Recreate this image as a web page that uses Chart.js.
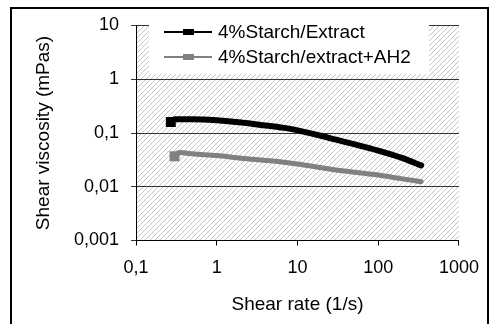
<!DOCTYPE html>
<html lang="en">
<head>
  <meta charset="UTF-8">
  <title>Shear viscosity</title>
  <script src="https://cdn.jsdelivr.net/npm/chart.js"></script>
  <style>
    body {
      margin: 0;
      background: white;
    }
  </style>
</head>
<body>
  <canvas id="grafico" width="491" height="324"></canvas>

  <script>
    // datos
    const seriesNames = ['4%Starch/Extract', '4%Starch/extract+AH2'];
    const extractRate = [0.27, 0.3, 0.5, 1, 2, 4, 7.5, 10, 20, 30, 50, 100, 200, 340];
    const extractVisc = [0.16, 0.18, 0.18, 0.172, 0.157, 0.138, 0.122, 0.112, 0.088, 0.075, 0.062, 0.047, 0.034, 0.025];
    const ah2Rate = [0.3, 0.34, 0.5, 1, 2, 5, 10, 30, 100, 200, 340];
    const ah2Visc = [0.037, 0.0435, 0.041, 0.038, 0.034, 0.030, 0.0265, 0.0205, 0.0165, 0.014, 0.0124];
    const xTicks = [0.1, 1, 10, 100, 1000];
    const xTickLabels = ['0,1', '1', '10', '100', '1000'];
    const yTicks = [0.001, 0.01, 0.1, 1, 10];
    const yTickLabels = ['0,001', '0,01', '0,1', '1', '10'];

    const FONT = 'Liberation Sans, Arial, sans-serif';

    function toPoints(xs, ys) {
      return xs.map((x, i) => ({ x: x, y: ys[i] }));
    }

    // fondo rayado del area de trazado
    function hatchPattern(ctx) {
      const c = document.createElement('canvas');
      c.width = 5; c.height = 5;
      const g = c.getContext('2d');
      g.fillStyle = '#ffffff';
      g.fillRect(0, 0, 5, 5);
      g.strokeStyle = '#c6c6c6';
      g.lineWidth = 1;
      g.beginPath();
      g.moveTo(-1, 6); g.lineTo(6, -1);
      g.moveTo(-1, 1); g.lineTo(1, -1);
      g.moveTo(4, 6); g.lineTo(6, 4);
      g.stroke();
      return ctx.createPattern(c, 'repeat');
    }

    const fondo = {
      id: 'fondo',
      beforeDraw(chart) {
        const { ctx, chartArea: a } = chart;
        ctx.save();
        ctx.fillStyle = '#ffffff';
        ctx.fillRect(0, 0, chart.width, chart.height);
        ctx.fillStyle = hatchPattern(ctx);
        ctx.fillRect(a.left, a.top, a.right - a.left, a.bottom - a.top);
        ctx.restore();
      }
    };

    const leyenda = {
      id: 'leyenda',
      afterDraw(chart) {
        const ctx = chart.ctx;
        ctx.save();
        ctx.fillStyle = '#ffffff';
        ctx.fillRect(149, 17, 280, 57);
        chart.data.datasets.forEach((ds, i) => {
          const y = 32 + i * 25;
          ctx.strokeStyle = ds.borderColor;
          ctx.lineWidth = 2;
          ctx.beginPath();
          ctx.moveTo(164, y);
          ctx.lineTo(212, y);
          ctx.stroke();
          ctx.fillStyle = ds.borderColor;
          ctx.fillRect(183, y - 3, 11, 6);
          ctx.fillStyle = '#000000';
          ctx.font = '19px ' + FONT;
          ctx.textBaseline = 'middle';
          ctx.fillText(ds.label, 218, y + 1);
        });
        // marco exterior
        ctx.strokeStyle = '#000000';
        ctx.lineWidth = 2;
        ctx.strokeRect(11, 8, 477, 330);
        ctx.restore();
      }
    };

    new Chart(document.getElementById('grafico'), {
      type: 'line',
      data: {
        datasets: [
          {
            label: seriesNames[0],
            data: toPoints(extractRate, extractVisc),
            borderColor: '#000000',
            backgroundColor: '#000000',
            borderWidth: 6,
            borderCapStyle: 'round',
            cubicInterpolationMode: 'monotone',
            pointStyle: 'rect',
            pointRadius: extractRate.map((v, i) => i === 0 ? 7 : 0),
            pointBorderWidth: 0
          },
          {
            label: seriesNames[1],
            data: toPoints(ah2Rate, ah2Visc),
            borderColor: '#808080',
            backgroundColor: '#808080',
            borderWidth: 5,
            borderCapStyle: 'round',
            cubicInterpolationMode: 'monotone',
            pointStyle: 'rect',
            pointRadius: ah2Rate.map((v, i) => i === 0 ? 7 : 0),
            pointBorderWidth: 0
          }
        ]
      },
      options: {
        responsive: false,
        animation: false,
        layout: { padding: { top: 25.5, right: 27, left: 0, bottom: 0 } },
        plugins: {
          legend: { display: false },
          tooltip: { enabled: false }
        },
        scales: {
          x: {
            type: 'logarithmic',
            min: 0.1,
            max: 1000,
            afterFit: s => { s.height = 83.5; },
            afterBuildTicks: s => { s.ticks = xTicks.map(v => ({ value: v })); },
            ticks: {
              autoSkip: false,
              maxRotation: 0,
              padding: 12,
              color: '#000000',
              font: { family: FONT, size: 18 },
              callback: (v) => xTickLabels[xTicks.indexOf(v)]
            },
            grid: { drawOnChartArea: false, drawTicks: true, tickLength: 5, color: '#000000' },
            border: { color: '#000000', width: 1 },
            title: {
              display: true,
              text: 'Shear rate (1/s)',
              color: '#000000',
              font: { family: FONT, size: 19 },
              padding: { top: 0, bottom: 8 }
            }
          },
          y: {
            type: 'logarithmic',
            min: 0.001,
            max: 10,
            afterFit: s => { s.width = 136; },
            afterBuildTicks: s => { s.ticks = yTicks.map(v => ({ value: v })); },
            ticks: {
              autoSkip: false,
              padding: 12,
              color: '#000000',
              font: { family: FONT, size: 18 },
              callback: (v) => yTickLabels[yTicks.indexOf(v)]
            },
            grid: { tickLength: 5, color: '#333333' },
            border: { color: '#000000', width: 1 },
            title: {
              display: true,
              text: 'Shear viscosity (mPas)',
              color: '#000000',
              font: { family: FONT, size: 19 },
              padding: { top: 32, bottom: 0 }
            }
          }
        }
      },
      plugins: [fondo, leyenda]
    });
  </script>
</body>
</html>
